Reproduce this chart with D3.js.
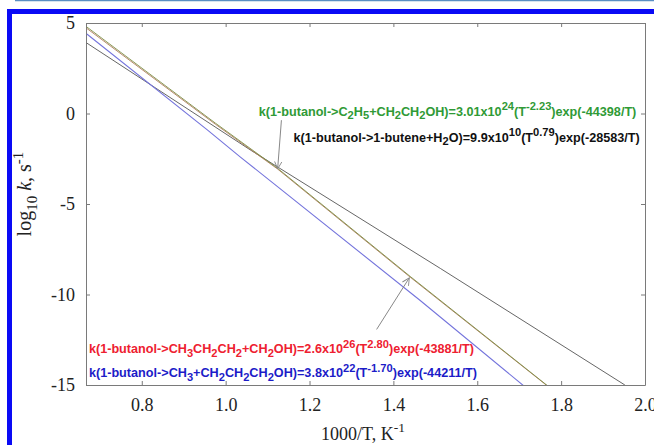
<!DOCTYPE html>
<html>
<head>
<meta charset="utf-8">
<script src="https://cdn.jsdelivr.net/npm/d3@7"></script>
<style>
    body { margin: 0; background: #ffffff; }
    svg { display: block; }
</style>
</head>
<body>
<div id="testbed"></div>
<script>
//Values (x = 1000/T, y = log10 k)
var blackX = [0.669, 1.060, 1.512, 1.952];
var blackY = [3.89, -2.03, -8.56, -15.0];
var greenX = [0.669, 0.976, 1.124, 1.440, 1.767];
var greenY = [4.78, -0.54, -3.03, -9.0, -15.03];
var redX = [0.669, 0.976, 1.124, 1.440, 1.767];
var redY = [4.70, -0.60, -3.07, -9.04, -15.05];
var blueX = [0.669, 0.957, 1.036, 1.464, 1.710];
var blueY = [4.39, -0.92, -2.42, -10.33, -15.03];

var xTicks = [0.8, 1.0, 1.2, 1.4, 1.6, 1.8, 2.0];
var yTicks = [5, 0, -5, -10, -15];

//Rate expressions, split into [text, kind] pieces
var greenLabel = [["k(1-butanol->C","n"],["2","sub"],["H","n"],["5","sub"],["+CH","n"],["2","sub"],["CH","n"],["2","sub"],
    ["OH)=3.01x10","n"],["24","sup"],["(T","n"],["-2.23","sup"],[")exp(-44398/T)","n"]];
var blackLabel = [["k(1-butanol->1-butene+H","n"],["2","sub"],["O)=9.9x10","n"],["10","sup"],["(T","n"],["0.79","sup"],[")exp(-28583/T)","n"]];
var redLabel = [["k(1-butanol->CH","n"],["3","sub"],["CH","n"],["2","sub"],["CH","n"],["2","sub"],["+CH","n"],["2","sub"],
    ["OH)=2.6x10","n"],["26","sup"],["(T","n"],["2.80","sup"],[")exp(-43881/T)","n"]];
var blueLabel = [["k(1-butanol->CH","n"],["3","sub"],["+CH","n"],["2","sub"],["CH","n"],["2","sub"],["CH","n"],["2","sub"],
    ["OH)=3.8x10","n"],["22","sup"],["(T","n"],["-1.70","sup"],[")exp(-44211/T)","n"]];

//Series
var series = [
    {name: "black", xs: blackX, ys: blackY, color: "#555555", w: 0.9},
    {name: "red", xs: redX, ys: redY, color: "#b07a5a", w: 0.9},
    {name: "green", xs: greenX, ys: greenY, color: "#7d8f46", w: 0.9},
    {name: "blue", xs: blueX, ys: blueY, color: "#7474dc", w: 1.1}
];

//Annotations in data units
var notes = [
    {segs: greenLabel, x: 1.079, y: -0.12, color: "#2f9a36"},
    {segs: blackLabel, x: 1.162, y: -1.56, color: "#111111"},
    {segs: redLabel, x: 0.674, y: -13.25, color: "#ee2030"},
    {segs: blueLabel, x: 0.674, y: -14.58, color: "#1c1cc8"}
];
var arrows = [
    {x1: 1.133, y1: -0.37, x2: 1.124, y2: -3.06},
    {x1: 1.360, y1: -11.93, x2: 1.438, y2: -9.08}
];

//System dimensions
var width = 654;
var height = 445;
var plot = {left: 86, right: 645, top: 23, bottom: 385};
var serif = "'Liberation Serif', 'Times New Roman', serif";
var sans = "'Liberation Sans', Arial, sans-serif";

var x = d3.scaleLinear()
    .domain([0.667, 2.0])
    .range([plot.left, plot.right]);
var y = d3.scaleLinear()
    .domain([-15, 5])
    .range([plot.bottom, plot.top]);

var svg = d3.select("#testbed")
    .append("svg")
    .attr("width", width)
    .attr("height", height);

//Page frame
svg.append("line")
    .attr("x1", 15).attr("x2", width)
    .attr("y1", 0.5).attr("y2", 0.5)
    .attr("stroke", "#5a8ec2")
    .attr("stroke-width", 1.5);
svg.append("rect")
    .attr("x", 9.5).attr("y", 11.5)
    .attr("width", width + 20).attr("height", height + 20)
    .attr("fill", "none")
    .attr("stroke", "#0a0af5")
    .attr("stroke-width", 5);

svg.append("clipPath")
    .attr("id", "clip")
    .append("rect")
    .attr("x", plot.left).attr("y", plot.top)
    .attr("width", plot.right - plot.left)
    .attr("height", plot.bottom - plot.top);

//Axes, ticks pointing inward on all four sides
function styleAxis(g) {
    g.selectAll("path, line").attr("stroke", "#7a7a7a");
    g.selectAll("text")
        .attr("fill", "#222")
        .style("font-family", serif)
        .style("font-size", "18px");
}

svg.append("g")
    .attr("transform", "translate(0," + plot.bottom + ")")
    .call(d3.axisBottom(x).tickValues(xTicks).tickFormat(d3.format(".1f"))
        .tickSizeInner(-4).tickSizeOuter(0).tickPadding(13))
    .call(styleAxis);
svg.append("g")
    .attr("transform", "translate(0," + plot.top + ")")
    .call(d3.axisTop(x).tickValues(xTicks).tickFormat("")
        .tickSizeInner(-4).tickSizeOuter(0))
    .call(styleAxis);
svg.append("g")
    .attr("transform", "translate(" + plot.left + ",0)")
    .call(d3.axisLeft(y).tickValues(yTicks).tickFormat(function(d) { return String(d); })
        .tickSizeInner(-4).tickSizeOuter(0).tickPadding(11))
    .call(styleAxis);
svg.append("g")
    .attr("transform", "translate(" + plot.right + ",0)")
    .call(d3.axisRight(y).tickValues(yTicks).tickFormat("")
        .tickSizeInner(-4).tickSizeOuter(0))
    .call(styleAxis);

//Lines
var line = d3.line()
    .x(function(d) { return x(d[0]); })
    .y(function(d) { return y(d[1]); });

svg.append("g")
    .attr("clip-path", "url(#clip)")
    .selectAll("path")
    .data(series)
    .enter()
    .append("path")
    .attr("d", function(d) {
        return line(d.xs.map(function(v, i) { return [v, d.ys[i]]; }));
    })
    .attr("fill", "none")
    .attr("stroke", function(d) { return d.color; })
    .attr("stroke-width", function(d) { return d.w; });

//Rich text with sub/superscripts
function richText(text, segs, size, small) {
    var shift = 0;
    segs.forEach(function(s) {
        var target = s[1] == "sub" ? size * 0.28 : (s[1] == "sup" ? -size * 0.42 : 0);
        text.append("tspan")
            .attr("dy", target - shift)
            .style("font-size", (s[1] == "n" || s[1] == "i" ? size : size * small) + "px")
            .style("font-style", s[1] == "i" ? "italic" : null)
            .text(s[0]);
        shift = target;
    });
}

notes.forEach(function(n) {
    var t = svg.append("text")
        .attr("x", x(n.x))
        .attr("y", y(n.y))
        .attr("fill", n.color)
        .style("font-family", sans)
        .style("font-weight", "bold");
    richText(t, n.segs, 12.65, 0.88);
});

//Arrows
svg.append("defs")
    .append("marker")
    .attr("id", "head")
    .attr("viewBox", "0 0 10 10")
    .attr("refX", 9).attr("refY", 5)
    .attr("markerWidth", 9).attr("markerHeight", 9)
    .attr("markerUnits", "userSpaceOnUse")
    .attr("orient", "auto")
    .append("path")
    .attr("d", "M1,1 L9,5 L1,9")
    .attr("fill", "none")
    .attr("stroke", "#888");

svg.selectAll(".arrow")
    .data(arrows)
    .enter()
    .append("line")
    .attr("class", "arrow")
    .attr("x1", function(d) { return x(d.x1); })
    .attr("y1", function(d) { return y(d.y1); })
    .attr("x2", function(d) { return x(d.x2); })
    .attr("y2", function(d) { return y(d.y2); })
    .attr("stroke", "#888")
    .attr("stroke-width", 1)
    .attr("marker-end", "url(#head)");

//Axis titles
var xt = svg.append("text")
    .attr("x", 363)
    .attr("y", 440)
    .attr("text-anchor", "middle")
    .attr("fill", "#222")
    .style("font-family", serif);
richText(xt, [["1000/T, K","n"],["-1","sup"]], 18, 0.75);

var yt = svg.append("text")
    .attr("transform", "translate(31,194) rotate(-90)")
    .attr("text-anchor", "middle")
    .attr("fill", "#222")
    .style("font-family", serif);
richText(yt, [["log","n"],["10","sub"],[" ","n"],["k","i"],[", s","n"],["-1","sup"]], 20, 0.75);
</script>
</body>
</html>
